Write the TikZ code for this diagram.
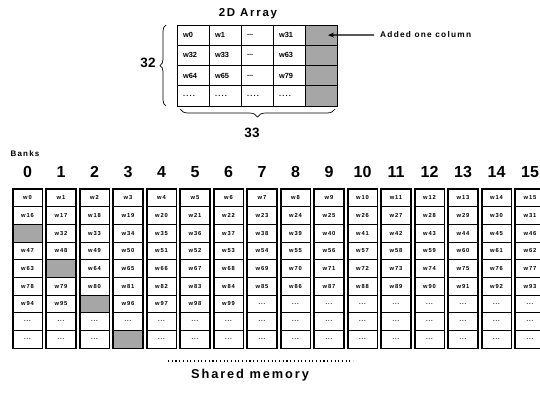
\documentclass[tikz,border=0pt]{standalone}
\usepackage{fontspec}
\setmainfont{Liberation Sans}
\newfontfamily\spcfont[LetterSpace=15]{Liberation Sans}
\usetikzlibrary{decorations.pathreplacing,arrows.meta}
\newcommand\el{...}
\newcommand\elf{.\,.\,.\,.}
\begin{document}
\begin{tikzpicture}[x=1pt,y=-1pt,
  bankcell/.style={draw, line width=0.7pt, minimum width=29.3pt, minimum height=17.67pt,
    inner sep=0pt, font=\spcfont\bfseries\fontsize{5.8}{6}\selectfont},
  cellN/.style={},
  cellG/.style={fill=black!35},
  arrcell/.style={draw, line width=0.8pt, minimum height=20.25pt, text width=20pt,
    inner xsep=6pt, inner ysep=0pt, align=left, font=\bfseries\fontsize{7.4}{8}\selectfont},
  bankframe/.style={line width=1.7pt},
  banknum/.style={font=\bfseries\fontsize{16}{16}\selectfont},
  title/.style={font=\spcfont\bfseries\fontsize{11.5}{12}\selectfont},
  bracelabel/.style={font=\bfseries\fontsize{13.5}{14}\selectfont},
  bracestyle/.style={decorate, line width=0.7pt},
]
\useasboundingbox (0,0) rectangle (540,392);

% ---------- 2D array ----------
\foreach \r/\lst in {0/{w0,w1,\el,w31},1/{w32,w33,\el,w63},2/{w64,w65,\el,w79},3/{\elf,\elf,\elf,\elf}}{
  \foreach \t [count=\c from 0] in \lst {
    \node[arrcell] (a\r-\c) at ({177+32*\c+16},{25+20.25*\r+10.125}) {\t};
  }
  \node[arrcell, fill=black!35] (a\r-4) at ({177+32*4+16},{25+20.25*\r+10.125}) {};
}
\node[title] (arrtitle) at (248,14) {2D Array};

\coordinate (lbb) at (166,106);
\coordinate (lbt) at (166,25);
\draw[bracestyle, decoration={brace, amplitude=6pt}] (lbb) -- (lbt);
\node[bracelabel] (n32) at (148,63) {32};

\coordinate (bbr) at (335,109);
\coordinate (bbl) at (180,109);
\draw[bracestyle, decoration={brace, amplitude=8pt}] (bbr) -- (bbl);
\node[bracelabel] (n33) at (252,133) {33};

\node[font=\spcfont\bfseries\fontsize{8.3}{9}\selectfont, anchor=west, inner sep=0pt] (added) at (380,35) {Added one column};
\draw[line width=1.3pt, -{Stealth[length=6pt,width=5pt]}, shorten >=7pt] (added.west) ++(-6,0) coordinate (arrstart) -- (a0-4.center);

% ---------- Banks ----------
\node[font=\spcfont\bfseries\fontsize{8}{9}\selectfont] (bankslabel) at (25,154) {Banks};

\foreach \b/\lst in {
 0/{N/w0,N/w16,G/{},N/w47,N/w63,N/w78,N/w94,N/\el,N/\el},
 1/{N/w1,N/w17,N/w32,N/w48,G/{},N/w79,N/w95,N/\el,N/\el},
 2/{N/w2,N/w18,N/w33,N/w49,N/w64,N/w80,G/{},N/\el,N/\el},
 3/{N/w3,N/w19,N/w34,N/w50,N/w65,N/w81,N/w96,N/\el,G/{}},
 4/{N/w4,N/w20,N/w35,N/w51,N/w66,N/w82,N/w97,N/\el,N/\el},
 5/{N/w5,N/w21,N/w36,N/w52,N/w67,N/w83,N/w98,N/\el,N/\el},
 6/{N/w6,N/w22,N/w37,N/w53,N/w68,N/w84,N/w99,N/\el,N/\el},
 7/{N/w7,N/w23,N/w38,N/w54,N/w69,N/w85,N/\el,N/\el,N/\el},
 8/{N/w8,N/w24,N/w39,N/w55,N/w70,N/w86,N/\el,N/\el,N/\el},
 9/{N/w9,N/w25,N/w40,N/w56,N/w71,N/w87,N/\el,N/\el,N/\el},
 10/{N/w10,N/w26,N/w41,N/w57,N/w72,N/w88,N/\el,N/\el,N/\el},
 11/{N/w11,N/w27,N/w42,N/w58,N/w73,N/w89,N/\el,N/\el,N/\el},
 12/{N/w12,N/w28,N/w43,N/w59,N/w74,N/w90,N/\el,N/\el,N/\el},
 13/{N/w13,N/w29,N/w44,N/w60,N/w75,N/w91,N/\el,N/\el,N/\el},
 14/{N/w14,N/w30,N/w45,N/w61,N/w76,N/w92,N/\el,N/\el,N/\el},
 15/{N/w15,N/w31,N/w46,N/w62,N/w77,N/w93,N/\el,N/\el,N/\el}}{
  \foreach \ty/\t [count=\r from 0] in \lst {
    \node[bankcell, cell\ty] (c\b-\r) at ({12+33.5*\b+15.5},{189+17.67*\r+8.835}) {\t};
  }
  \draw[bankframe] (c\b-0.north west) rectangle (c\b-8.south east);
  \node[banknum] (h\b) at ({12+33.5*\b+15.5},172) {\b};
}

% ---------- Shared memory ----------
\coordinate (dotl) at (168,361);
\coordinate (dotr) at (353,361);
\draw[line width=1.1pt, dash pattern=on 1.1pt off 2.6pt] (dotl) -- (dotr);
\node[font=\spcfont\bfseries\fontsize{12.8}{13}\selectfont] (shared) at (250,375) {Shared memory};
\end{tikzpicture}
\end{document}
